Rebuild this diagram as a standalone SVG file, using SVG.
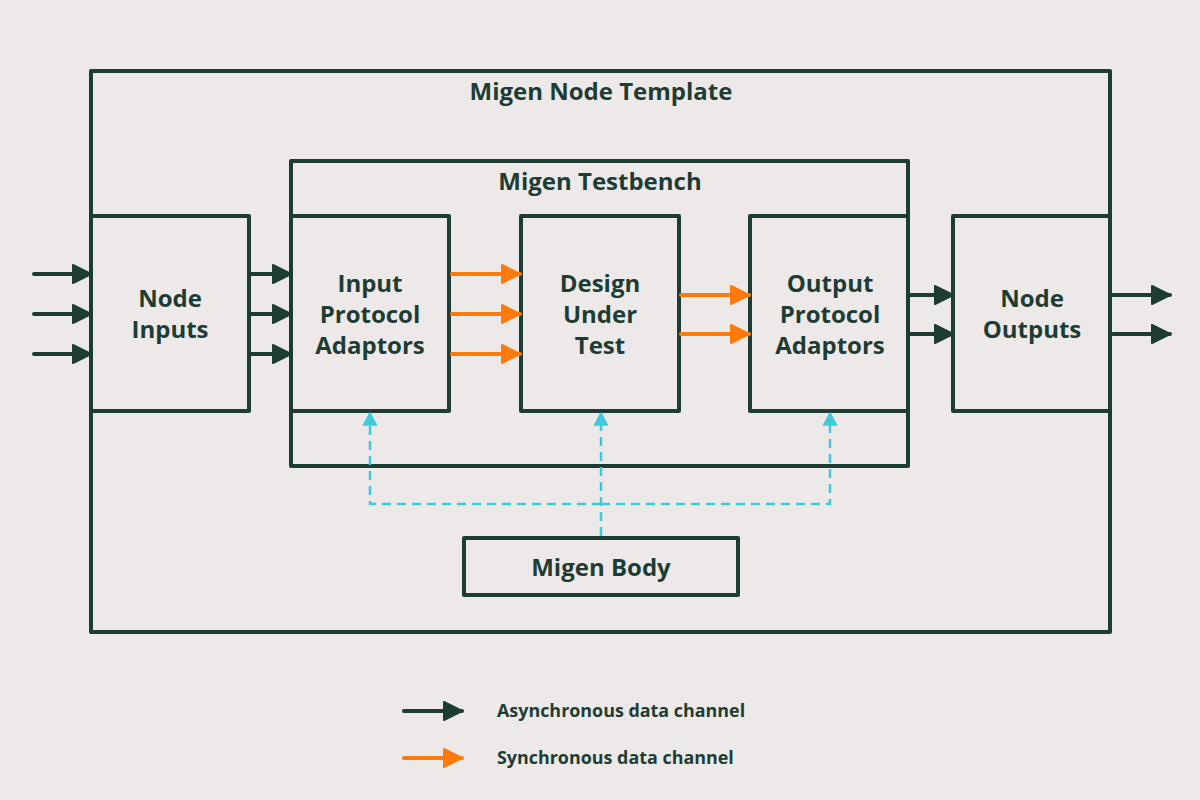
<svg xmlns="http://www.w3.org/2000/svg" width="1200" height="800" viewBox="0 0 1200 800">
<style>
.box{fill:none;stroke:#1d3d34;stroke-width:4;stroke-linejoin:round}
.lbl{font-family:"Open Sans","Liberation Sans",sans-serif;font-weight:700;font-size:24px;fill:#1d3d34;text-anchor:middle}
.leg{font-family:"Open Sans","Liberation Sans",sans-serif;font-weight:700;font-size:17.9px;fill:#1d3d34}
.async{stroke:#1d3d34;stroke-width:4;stroke-linecap:round;fill:none;marker-end:url(#ha)}
.sync{stroke:#ff7a0a;stroke-width:4;stroke-linecap:round;fill:none;marker-end:url(#hs)}
.ctl{stroke:#3fc9db;stroke-width:2.5;stroke-dasharray:9 6;fill:none}
</style>
<defs>
<marker id="ha" markerUnits="userSpaceOnUse" markerWidth="22" markerHeight="22" viewBox="0 0 22 22" refX="20" refY="11" orient="auto">
<path d="M2,2 L20,11 L2,20 Z" fill="#1d3d34" stroke="#1d3d34" stroke-width="2" stroke-linejoin="round"/>
</marker>
<marker id="hs" markerUnits="userSpaceOnUse" markerWidth="22" markerHeight="22" viewBox="0 0 22 22" refX="20" refY="11" orient="auto">
<path d="M2,2 L20,11 L2,20 Z" fill="#ff7a0a" stroke="#ff7a0a" stroke-width="2" stroke-linejoin="round"/>
</marker>
<marker id="hc" markerUnits="userSpaceOnUse" markerWidth="16" markerHeight="16" viewBox="0 0 16 16" refX="14" refY="8" orient="auto">
<path d="M2,1.5 L14,8 L2,14.5 Z" fill="#3fc9db" stroke="#3fc9db" stroke-width="1.5" stroke-linejoin="round"/>
</marker>
</defs>
<rect width="1200" height="800" fill="#ede9e8"/>

<g id="template">
<rect class="box" x="91" y="71" width="1019" height="561"/>
<text class="lbl" x="601" y="100">Migen Node Template</text>
</g>
<g id="testbench">
<rect class="box" x="291" y="161" width="617" height="305"/>
<text class="lbl" x="600" y="190">Migen Testbench</text>
</g>
<g id="node-inputs">
<rect class="box" x="91" y="216" width="158" height="195"/>
<text class="lbl" x="170" y="307">Node</text>
<text class="lbl" x="170" y="338">Inputs</text>
</g>
<g id="input-adaptors">
<rect class="box" x="291" y="216" width="158" height="195"/>
<text class="lbl" x="370" y="292">Input</text>
<text class="lbl" x="370" y="323">Protocol</text>
<text class="lbl" x="370" y="354">Adaptors</text>
</g>
<g id="dut">
<rect class="box" x="521" y="216" width="158" height="195"/>
<text class="lbl" x="600" y="292">Design</text>
<text class="lbl" x="600" y="323">Under</text>
<text class="lbl" x="600" y="354">Test</text>
</g>
<g id="output-adaptors">
<rect class="box" x="750" y="216" width="158" height="195"/>
<text class="lbl" x="830" y="292">Output</text>
<text class="lbl" x="830" y="323">Protocol</text>
<text class="lbl" x="830" y="354">Adaptors</text>
</g>
<g id="node-outputs">
<rect class="box" x="953" y="216" width="157" height="195"/>
<text class="lbl" x="1032" y="307">Node</text>
<text class="lbl" x="1032" y="338">Outputs</text>
</g>
<g id="migen-body">
<rect class="box" x="464" y="538" width="274" height="57"/>
<text class="lbl" x="601" y="576">Migen Body</text>
</g>

<g id="connectors">
<path class="async" d="M34,274 H91"/>
<path class="async" d="M34,314 H91"/>
<path class="async" d="M34,354 H91"/>
<path class="async" d="M251,274 H291"/>
<path class="async" d="M251,314 H291"/>
<path class="async" d="M251,354 H291"/>
<path class="sync" d="M452,274 H520"/>
<path class="sync" d="M452,314 H520"/>
<path class="sync" d="M452,354 H520"/>
<path class="sync" d="M681,295 H749"/>
<path class="sync" d="M681,334 H749"/>
<path class="async" d="M910,295 H953"/>
<path class="async" d="M910,334 H953"/>
<path class="async" d="M1113,295 H1170"/>
<path class="async" d="M1113,334 H1170"/>
<path class="ctl" d="M601,536 V413" marker-end="url(#hc)"/>
<path class="ctl" d="M601,504 H370 V413" marker-end="url(#hc)"/>
<path class="ctl" d="M601,504 H830 V413" marker-end="url(#hc)"/>
</g>

<g id="legend">
<path class="async" d="M404,711 H462"/>
<text class="leg" x="497" y="717">Asynchronous data channel</text>
<path class="sync" d="M404,758 H462"/>
<text class="leg" x="497" y="764">Synchronous data channel</text>
</g>
</svg>
